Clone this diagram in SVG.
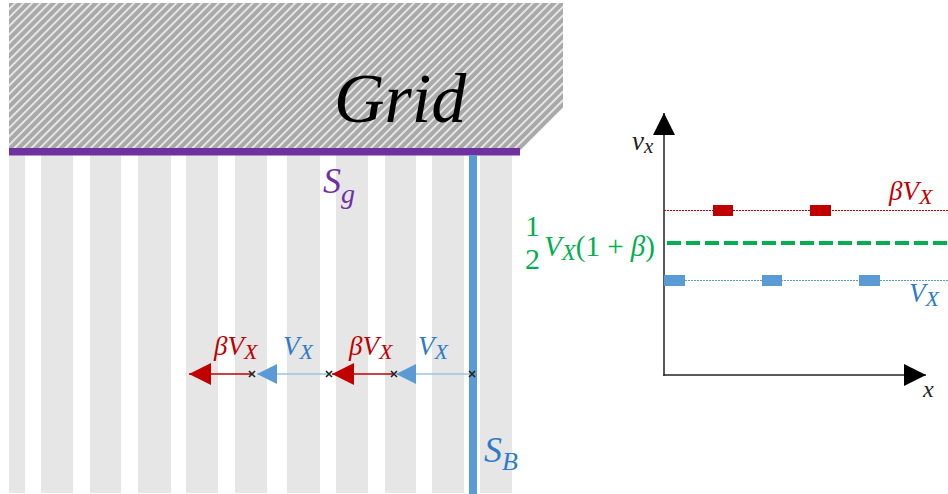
<svg xmlns="http://www.w3.org/2000/svg" width="948" height="494" viewBox="0 0 948 494">
<style>
.m{font-family:"Liberation Serif","DejaVu Serif",serif;font-style:italic}
.u{font-family:"Liberation Serif","DejaVu Serif",serif;font-style:normal}
.red{fill:#c00000}
.blue{fill:#2e7bc9}
.green{fill:#00b050}
.strip{fill:#e6e6e6}
</style>
<defs>
<pattern id="hatch" width="6" height="6" patternUnits="userSpaceOnUse" patternTransform="rotate(45)">
<rect width="6" height="6" fill="#a9a9a9"/>
<rect x="0" width="1.8" height="6" fill="#ececec"/>
</pattern>
<marker id="hr" viewBox="0 0 22 22" markerWidth="22" markerHeight="22" refX="22" refY="11" orient="auto" markerUnits="userSpaceOnUse">
<path d="M0,0 L22,11 L0,22 z" fill="#c00000"/>
</marker>
<marker id="hb" viewBox="0 0 22 22" markerWidth="20" markerHeight="22" refX="22" refY="11" orient="auto" markerUnits="userSpaceOnUse">
<path d="M0,0 L22,11 L0,22 z" fill="#5b9bd5"/>
</marker>
<marker id="ah" viewBox="0 0 22 22" markerWidth="22" markerHeight="22" refX="22" refY="11" orient="auto" markerUnits="userSpaceOnUse">
<path d="M0,0 L22,11 L0,22 z" fill="#000"/>
</marker>
</defs>
<rect width="948" height="494" fill="#fff"/>

<g id="strips">
<rect class="strip" x="9" y="155" width="16" height="338"/>
<rect class="strip" x="41" y="155" width="32" height="338"/>
<rect class="strip" x="90" y="155" width="31" height="338"/>
<rect class="strip" x="138" y="155" width="33" height="338"/>
<rect class="strip" x="186" y="155" width="32" height="338"/>
<rect class="strip" x="235" y="155" width="32" height="338"/>
<rect class="strip" x="287" y="155" width="33" height="338"/>
<rect class="strip" x="336" y="155" width="32" height="338"/>
<rect class="strip" x="385" y="155" width="31" height="338"/>
<rect class="strip" x="432" y="155" width="32" height="338"/>
<rect class="strip" x="480" y="155" width="32" height="338"/>
</g>

<g id="grid">
<path d="M9,3 L563,3 L563,108 L520,151 L9,151 z" fill="url(#hatch)"/>
<text class="m" x="334" y="122" font-size="70" fill="#000">Grid</text>
</g>

<g id="sg">
<rect x="9" y="148" width="511" height="7.5" fill="#7030a0"/>
<text class="m" x="323" y="193" font-size="36" fill="#7030a0">S<tspan font-size="28" dy="10">g</tspan></text>
</g>

<g id="sb">
<rect x="469" y="155" width="8" height="339" fill="#5b9bd5"/>
<text class="m blue" x="484" y="462" font-size="36">S<tspan font-size="26" dy="8">B</tspan></text>
</g>

<g id="connectors">
<line x1="252" y1="374" x2="189" y2="374" stroke="#c00000" stroke-width="1.5" marker-end="url(#hr)"/>
<line x1="329" y1="374" x2="257" y2="374" stroke="#9dc3e6" stroke-width="1.5" marker-end="url(#hb)"/>
<line x1="394" y1="374" x2="332" y2="374" stroke="#c00000" stroke-width="1.5" marker-end="url(#hr)"/>
<line x1="472" y1="374" x2="396" y2="374" stroke="#9dc3e6" stroke-width="1.5" marker-end="url(#hb)"/>
<g stroke="#222" stroke-width="1.6">
<path d="M249,371 l6,6 M255,371 l-6,6"/>
<path d="M326,371 l6,6 M332,371 l-6,6"/>
<path d="M391,371 l6,6 M397,371 l-6,6"/>
<path d="M469,371 l6,6 M475,371 l-6,6"/>
</g>
</g>

<g id="labels-particles">
<text class="m red" x="214" y="355" font-size="27">βV<tspan font-size="22" dy="4">X</tspan></text>
<text class="m blue" x="283" y="355" font-size="27">V<tspan font-size="22" dy="4">X</tspan></text>
<text class="m red" x="349" y="355" font-size="27">βV<tspan font-size="22" dy="4">X</tspan></text>
<text class="m blue" x="418" y="355" font-size="27">V<tspan font-size="22" dy="4">X</tspan></text>
</g>

<g id="chart">
<line x1="664" y1="376" x2="664" y2="113" stroke="#222" stroke-width="1.5" marker-end="url(#ah)"/>
<line x1="663.3" y1="375" x2="926" y2="375" stroke="#222" stroke-width="1.5" marker-end="url(#ah)"/>
<text class="m" x="632" y="150" font-size="27" fill="#222">v<tspan font-size="21" dy="3">x</tspan></text>
<text class="m" x="923" y="397" font-size="24" fill="#222">x</text>
</g>

<g id="beta-line">
<line x1="664" y1="210.5" x2="948" y2="210.5" stroke="#c00000" stroke-width="1" stroke-dasharray="2,1"/>
<rect x="713" y="205" width="20" height="11" fill="#c00000"/>
<rect x="810" y="205" width="21" height="11" fill="#c00000"/>
<text class="m red" x="889" y="200" font-size="27">βV<tspan font-size="22" dy="4">X</tspan></text>
</g>

<g id="mean-line">
<line x1="667" y1="243" x2="948" y2="243" stroke="#00b050" stroke-width="4" stroke-dasharray="14,5"/>
<text class="u green" x="525" y="236" font-size="30">1</text>
<text class="u green" x="525" y="269" font-size="30">2</text>
<text class="m green" x="544" y="256" font-size="29">V<tspan font-size="23" dy="4">X</tspan><tspan dy="-4" font-style="normal">(1 + </tspan>β<tspan font-style="normal">)</tspan></text>
</g>

<g id="v-line">
<line x1="664" y1="280.5" x2="948" y2="280.5" stroke="#5b9bd5" stroke-width="1" stroke-dasharray="2,1"/>
<rect x="664" y="275" width="21" height="11" fill="#5b9bd5"/>
<rect x="762" y="275" width="20" height="11" fill="#5b9bd5"/>
<rect x="859" y="275" width="21" height="11" fill="#5b9bd5"/>
<text class="m blue" x="909" y="302" font-size="27">V<tspan font-size="22" dy="4">X</tspan></text>
</g>
</svg>
